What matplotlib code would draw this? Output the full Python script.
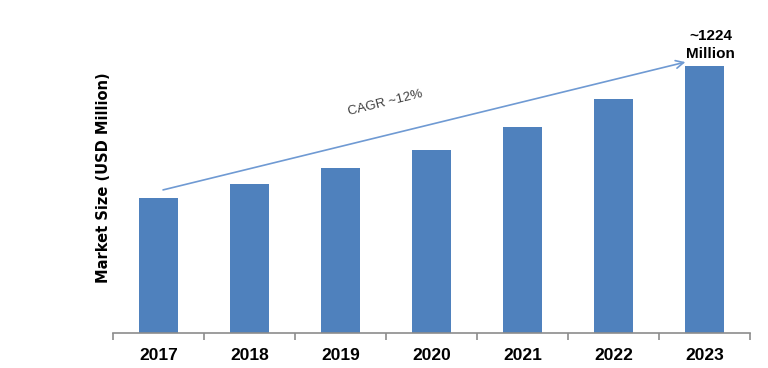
import matplotlib
matplotlib.use("Agg")
import matplotlib.pyplot as plt
from matplotlib.ticker import FixedLocator
import numpy as np

years = ["2017", "2018", "2019", "2020", "2021", "2022", "2023"]
market_size = [619, 683, 756, 839, 944, 1073, 1224]
last_label = "~1224\nMillion"
cagr_label = "CAGR ~12%"
y_label = "Market Size (USD Million)"

fig = plt.figure(figsize=(7.68, 3.68), dpi=100)
W, H = 768, 368
ax = fig.add_axes([113 / W, (H - 333) / H, 637 / W, 313 / H])

x = np.arange(len(years))
ax.bar(x, market_size, width=0.42, color="#4f81bd", zorder=2)

ax.set_xlim(-0.5, len(years) - 0.5)
ax.set_ylim(0, 1435)

for s in ["top", "right", "left"]:
    ax.spines[s].set_visible(False)
ax.spines["bottom"].set_color("#8c8c8c")
ax.spines["bottom"].set_linewidth(1.2)

ax.set_yticks([])
ax.set_xticks(x)
ax.set_xticklabels(years, fontsize=12.5, fontweight="bold",
                   family=["Liberation Sans Narrow", "Liberation Sans", "DejaVu Sans"])
ax.tick_params(axis="x", which="major", length=0, pad=10.5)
ax.xaxis.set_minor_locator(FixedLocator(np.arange(-0.5, len(years), 1.0)))
ax.tick_params(axis="x", which="minor", length=5, color="#8c8c8c", width=1.2, direction="out")

fig.text(103 / W, 1 - 178 / H, y_label, rotation=90, ha="center", va="center",
         fontsize=10.5, fontweight="bold", family=["DejaVu Sans"])

# CAGR arrow
ax.annotate("", xy=(5.79, 1242), xytext=(0.05, 656),
            arrowprops=dict(arrowstyle="->", color="#6f9ad3", lw=1.2,
                            mutation_scale=14, shrinkA=0, shrinkB=0))
ax.text(2.49, 1054, cagr_label, rotation=13.8, ha="center", va="center",
        fontsize=9.5, color="#404040", family=["Liberation Sans", "DejaVu Sans"])

ax.text(x[-1] + 0.07, market_size[-1] + 25, last_label, ha="center", va="bottom",
        fontsize=11, fontweight="bold", linespacing=1.35,
        family=["Liberation Sans Narrow", "Liberation Sans", "DejaVu Sans"])

fig.savefig("out.png", dpi=100)
